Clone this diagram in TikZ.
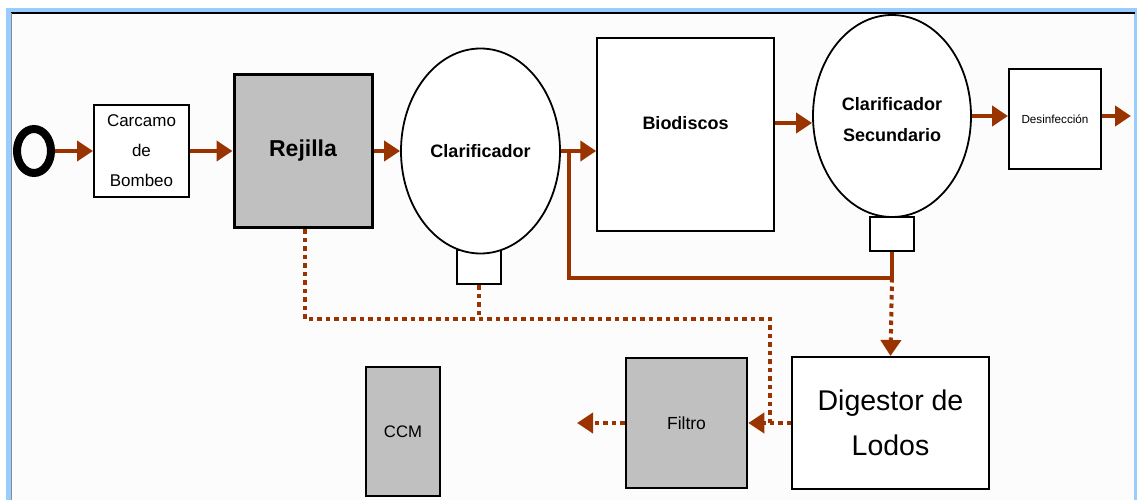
\documentclass[tikz,border=0pt]{standalone}
\usepackage{fontspec}
\setmainfont{Liberation Sans}
\usetikzlibrary{arrows.meta,shapes.geometric}
\definecolor{flow}{HTML}{993300}
\definecolor{panel}{HTML}{C0C0C0}
\definecolor{rim}{HTML}{99CCFF}

\begin{document}
\begin{tikzpicture}[x=1pt,y=-1pt,
  unit/.style={draw=black, line width=2pt, inner sep=0pt, align=center},
  tank/.style={ellipse, draw=black, line width=1.8pt, fill=white, inner sep=0pt, align=center},
  flowline/.style={draw=flow, line width=4pt},
  flowarrow/.style={flowline, -{Triangle[length=16pt,width=20pt]}},
  sludge/.style={draw=flow, line width=4pt, dash pattern=on 4.5pt off 4pt},
  sludgearrow/.style={sludge, -{Triangle[length=16pt,width=20pt]}},
]
\useasboundingbox (0,0) rectangle (1137,500);

% window frame
\fill[white] (0,0) rectangle (1137,500);
\fill[rim] (6,8) rectangle (1137,500);
\fill[white!99!black] (11,12.5) rectangle (1134,500);
\draw[black, line width=1.5pt] (11,12.8) -- (1135,12.8);
\draw[black!45, line width=1pt] (11.5,13) -- (11.5,500);

% process units
\node[ellipse, draw=black, line width=8pt, minimum width=34pt, minimum height=44pt, inner sep=0pt] (in) at (34,151) {};
\node[unit, fill=white, minimum width=95pt, minimum height=92pt, font=\fontsize{17}{30}\selectfont] (carc) at (141.5,151) {Carcamo\\de\\Bombeo};
\node[unit, fill=panel, line width=3pt, minimum width=138pt, minimum height=153pt, font=\fontsize{23}{28}\selectfont\bfseries] (rej) at (303,151) {Rejilla};

\node[unit, fill=white, minimum width=44pt, minimum height=34pt] (cl1b) at (479,267) {};
\node[tank, minimum width=159pt, minimum height=205pt, font=\fontsize{18}{24}\selectfont\bfseries] (cl1) at (480.5,151) {Clarificador};

\node[unit, fill=white, line width=1.5pt, minimum width=177pt, minimum height=193pt,
  label={[font=\fontsize{18}{24}\selectfont\bfseries, yshift=11.5pt]center:Biodiscos}] (bio) at (685.5,134.5) {};

\node[unit, fill=white, minimum width=44pt, minimum height=34pt] (cl2b) at (892,234) {};
\node[tank, minimum width=158pt, minimum height=202pt,
  label={[font=\fontsize{18}{31}\selectfont\bfseries, align=center, yshift=-4pt]center:Clarificador\\Secundario}] (cl2) at (892,116) {};

\node[unit, fill=white, minimum width=92pt, minimum height=100pt, font=\fontsize{11.7}{14}\selectfont] (des) at (1055,119) {Desinfección};

\node[unit, fill=white, minimum width=197pt, minimum height=132pt, font=\fontsize{28.5}{45}\selectfont] (dig) at (890.5,423) {Digestor de\\Lodos};
\node[unit, fill=panel, line width=2.5pt, minimum width=121pt, minimum height=130pt, font=\fontsize{17.5}{20}\selectfont] (fil) at (686.5,423) {Filtro};
\node[unit, fill=panel, line width=2.5pt, minimum width=74pt, minimum height=129pt, font=\fontsize{16.7}{20}\selectfont] (ccm) at (403,431.5) {CCM};

% junctions and free ends
\coordinate (bioflow) at (685.5,123);
\coordinate (out) at (1131,117);
\coordinate (j1) at (892,278);
\coordinate (j2) at (569,278);
\coordinate (d1) at (305,319);
\coordinate (d2) at (770,319);
\coordinate (fout) at (577,423);

% water line
\draw[flowarrow] (in.east) -- (in.east -| carc.west);
\draw[flowarrow] (carc.east) -- (carc.east -| rej.west);
\draw[flowarrow] (rej.east) -- (rej.east -| cl1.west);
\draw[flowarrow] (cl1.east) -- (cl1.east -| bio.west);
\draw[flowarrow] (bioflow -| bio.east) -- (bioflow -| cl2.west);
\draw[flowarrow] (cl2.east) -- (cl2.east -| des.west);
\draw[flowarrow] (des.east |- cl2.east) -- (out |- cl2.east);

% return from the secondary clarifier
\draw[flowline] (cl2b.south) -- (j1) -- (j2) -- (j2 |- cl1.east);

% sludge lines
\draw[sludgearrow] (j1) -- (dig.north);
\draw[sludge] (rej.south -| d1) -- (d1) -- (d2) -- (d2 |- dig.west);
\draw[sludge] (cl1b.south) -- (cl1b.south |- d1);
\draw[sludgearrow] (dig.west) -- (dig.west -| fil.east);
\draw[sludgearrow] (fil.west) -- (fout);
\end{tikzpicture}
\end{document}
